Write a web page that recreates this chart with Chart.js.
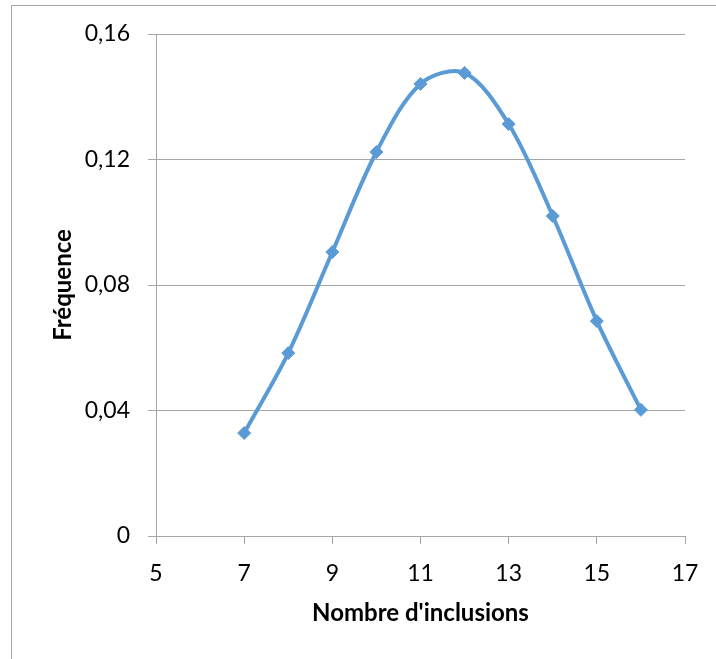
<!DOCTYPE html>
<html>
<head>
<meta charset="utf-8">
<script src="https://cdn.jsdelivr.net/npm/chart.js@4"></script>
<style>
  html, body { margin: 0; padding: 0; background: #ffffff; }
  #wrap { position: relative; width: 716px; height: 659px; overflow: hidden; }
  #frame { position: absolute; left: 11px; top: 5px; width: 720px; height: 700px; border-left: 1px solid #a6a6a6; border-top: 1px solid #a6a6a6; box-sizing: border-box; }
  #c { position: absolute; left: 0; top: 0; }
</style>
</head>
<body>
<div id="wrap">
  <div id="frame"></div>
  <canvas id="c" width="716" height="659"></canvas>
</div>
<script>
// Data
const inclusions = [7, 8, 9, 10, 11, 12, 13, 14, 15, 16];
const frequence = [0.0328, 0.0583, 0.0905, 0.1224, 0.1441, 0.1476, 0.1313, 0.1020, 0.0685, 0.0402];
const xTickLabels = ['5', '7', '9', '11', '13', '15', '17'];
const yTickLabels = ['0', '0,04', '0,08', '0,12', '0,16'];
const xTitle = "Nombre d'inclusions";
const yTitle = 'Fréquence';

const points = inclusions.map((x, i) => ({ x: x, y: frequence[i] }));
const gridColor = '#a6a6a6';
const fontFamily = 'Lato, "Open Sans", sans-serif';

new Chart(document.getElementById('c'), {
  type: 'scatter',
  data: {
    datasets: [{
      data: points,
      showLine: true,
      borderColor: '#5B9BD5',
      backgroundColor: '#5B9BD5',
      borderWidth: 4,
      tension: 0.33,
      pointStyle: 'rectRot',
      pointRadius: 6.5,
      pointBorderWidth: 1,
      pointBackgroundColor: '#5B9BD5',
      pointBorderColor: '#5B9BD5'
    }]
  },
  options: {
    responsive: false,
    animation: false,
    devicePixelRatio: 1,
    layout: { padding: { left: 0, top: 34, right: 31, bottom: 0 } },
    plugins: { legend: { display: false }, tooltip: { enabled: false } },
    scales: {
      x: {
        type: 'linear',
        min: 5,
        max: 17,
        afterFit: (s) => { s.height = 123; },
        ticks: {
          stepSize: 2,
          padding: 16,
          color: '#000000',
          font: { family: fontFamily, size: 23 },
          callback: (v, i) => xTickLabels[i]
        },
        grid: { drawOnChartArea: false, drawTicks: true, tickLength: 8, color: gridColor },
        border: { display: true, color: gridColor, width: 1 },
        title: {
          display: true,
          text: xTitle,
          color: '#000000',
          font: { family: fontFamily, size: 24, weight: 'bold' },
          padding: { top: 0, bottom: 31 }
        }
      },
      y: {
        type: 'linear',
        min: 0,
        max: 0.16,
        afterFit: (s) => { s.width = 156; },
        ticks: {
          stepSize: 0.04,
          padding: 18,
          color: '#000000',
          font: { family: fontFamily, size: 23 },
          callback: (v, i) => yTickLabels[i]
        },
        grid: { drawOnChartArea: true, drawTicks: true, tickLength: 8, color: gridColor, lineWidth: 1 },
        border: { display: true, color: gridColor, width: 1 },
        title: {
          display: true,
          text: yTitle,
          color: '#000000',
          font: { family: fontFamily, size: 24, weight: 'bold' },
          padding: { top: 49, bottom: 0 }
        }
      }
    }
  }
});
</script>
</body>
</html>
